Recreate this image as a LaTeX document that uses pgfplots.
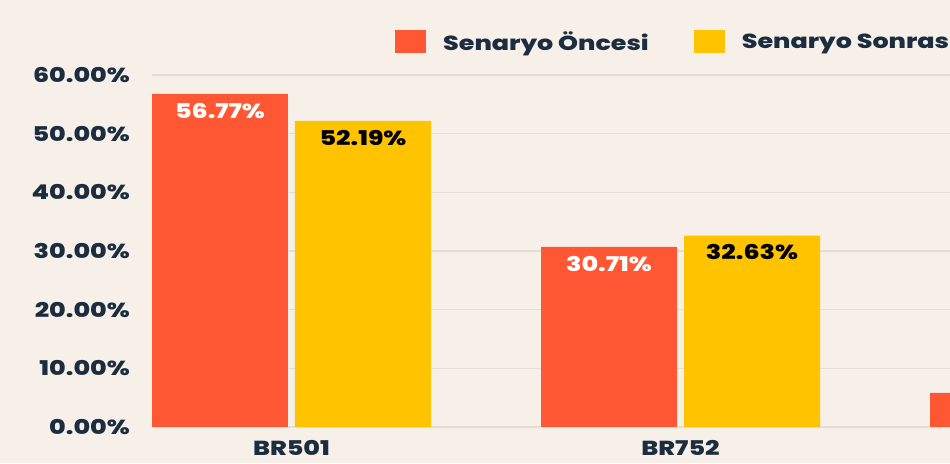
\documentclass[border=0pt]{standalone}
\usepackage{pgfplots}
\pgfplotsset{compat=1.18}
\usepackage{fontspec}
\setmainfont{Poppins}[FakeStretch=1.25, BoldFont={Poppins ExtraBold}]
\definecolor{bgc}{HTML}{F6F0E9}
\definecolor{orangec}{HTML}{FF5733}
\definecolor{yellowc}{HTML}{FFC300}
\definecolor{gridc}{HTML}{E2DDD6}
\definecolor{textc}{HTML}{1C2D3F}
\newcommand{\lblfont}{\bfseries\fontsize{20.3}{20.3}\selectfont}
\begin{document}
\begin{tikzpicture}[x=1pt,y=1pt]
\useasboundingbox (0,0) rectangle (950,463);
\fill[bgc] (0,0) rectangle (950,463);
\clip (0,0) rectangle (950,463);
\begin{axis}[
  at={(152pt,36pt)}, anchor=south west, scale only axis,
  width=798pt, height=352pt,
  ybar=7pt, bar width=136pt,
  xmin=-0.3586, xmax=1.6928, ymin=0, ymax=60,
  xtick={0,1}, xticklabels={BR501,BR752},
  ytick={0,10,20,30,40,50,60},
  ymajorgrids, major grid style={draw=gridc, line width=1.2pt},
  axis line style={draw=none}, tick style={draw=none}, major tick length=0pt,
  yticklabel style={anchor=east, xshift=-22pt, inner sep=0pt, font=\lblfont, text=textc},
  yticklabel={\pgfmathprintnumber[fixed,fixed zerofill,precision=2,assume math mode=true]{\tick}\%},
  xticklabel style={anchor=north, yshift=-13pt, inner sep=0pt, font=\lblfont, text=textc},
  nodes near coords={\pgfmathprintnumber[fixed,fixed zerofill,precision=2,assume math mode=true]{\pgfplotspointmeta}\%},
  every node near coord/.append style={anchor=north, yshift=-9pt, inner sep=0pt, font=\lblfont},
  legend style={draw=none, fill=none, at={(0.3045,1.0952)}, anchor=west, inner sep=0pt,
    nodes={inner sep=0pt, text=textc, font=\lblfont},
    /tikz/every odd column/.style={column sep=17pt},
    /tikz/every even column/.style={column sep=45pt}},
  legend columns=2,
  clip=true,
]
\addplot[fill=orangec, draw=none, every node near coord/.append style={text=white},
  legend image code/.code={\fill[orangec] (0pt,-11pt) rectangle (31pt,12pt);}]
  coordinates {(0,56.77) (1,30.71) (2,5.8)};
\addplot[fill=yellowc, draw=none, every node near coord/.append style={text=black},
  legend image code/.code={\fill[yellowc] (0pt,-11pt) rectangle (31pt,12pt);}]
  coordinates {(0,52.19) (1,32.63) (2,6.5)};
\legend{Senaryo Öncesi, Senaryo Sonrası}
\end{axis}
\end{tikzpicture}
\end{document}
